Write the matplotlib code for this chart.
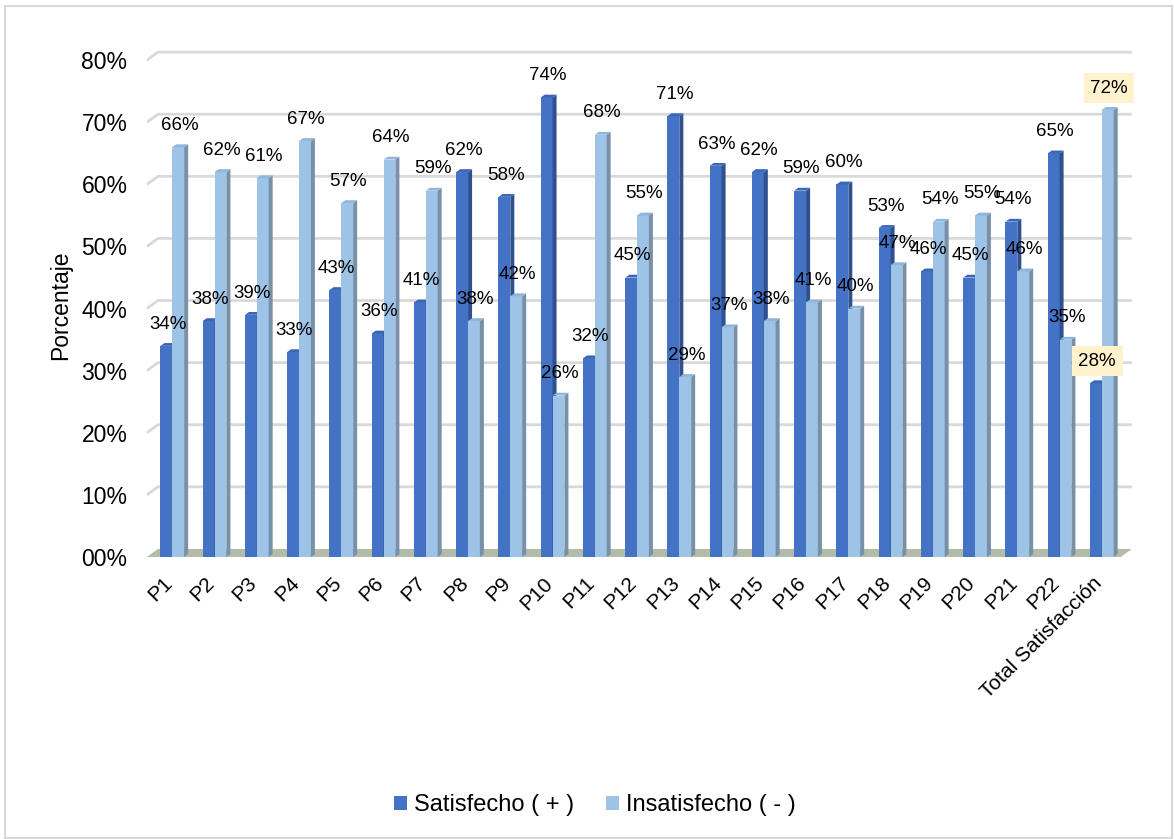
import matplotlib
matplotlib.use("Agg")
import matplotlib.pyplot as plt
import matplotlib.patches as patches
import numpy as np

plt.rcParams['font.family'] = ['Liberation Sans', 'DejaVu Sans']

# Data
categories = ["P1", "P2", "P3", "P4", "P5", "P6", "P7", "P8", "P9", "P10", "P11",
              "P12", "P13", "P14", "P15", "P16", "P17", "P18", "P19", "P20", "P21",
              "P22", "Total Satisfacción"]
satisfecho = [34, 38, 39, 33, 43, 36, 41, 62, 58, 74, 32, 45, 71, 63, 62, 59, 60,
              53, 46, 45, 54, 65, 28]
insatisfecho = [66, 62, 61, 67, 57, 64, 59, 38, 42, 26, 68, 55, 29, 37, 38, 41, 40,
                47, 54, 55, 46, 35, 72]
y_ticks = [0, 10, 20, 30, 40, 50, 60, 70, 80]
y_tick_labels = ["00%", "10%", "20%", "30%", "40%", "50%", "60%", "70%", "80%"]

# colours (Excel-like 3D bars)
SAT_FRONT, SAT_SIDE, SAT_TOP = '#4472C4', '#2F5190', '#3B66B6'
INS_FRONT, INS_SIDE, INS_TOP = '#9DC3E6', '#7890A8', '#8FB5DB'
GRID = '#D9D9D9'
FLOOR = '#B2BCA8'

BAR_W = 0.28
DEPTH_X, DEPTH_Y = 0.095, 0.45       # bar depth (data units)
WALL_X, WALL_Y = 0.26, 1.3          # back wall offset (data units)


def add_3d_faces(ax, bars, side_color, top_color, z):
    """Draw side and top faces for each front bar rectangle."""
    for b in bars:
        x0, w, h = b.get_x(), b.get_width(), b.get_height()
        x1 = x0 + w
        side = patches.Polygon([(x1, 0), (x1 + DEPTH_X, DEPTH_Y), (x1 + DEPTH_X, h + DEPTH_Y), (x1, h)],
                               closed=True, facecolor=side_color, edgecolor='none', zorder=z)
        top = patches.Polygon([(x0, h), (x1, h), (x1 + DEPTH_X, h + DEPTH_Y), (x0 + DEPTH_X, h + DEPTH_Y)],
                              closed=True, facecolor=top_color, edgecolor='none', zorder=z)
        ax.add_patch(side)
        ax.add_patch(top)


fig = plt.figure(figsize=(11.74, 8.39), dpi=100)
ax = fig.add_axes([0.11925, 0.32062, 0.8603, 0.6317])

x = np.arange(len(categories))
x_left, x_right_front = -0.60, 22.45
x_right_back = 22.71

# back wall gridlines with the little 3D diagonal on the left
for v in y_ticks[1:]:
    ax.plot([x_left, x_left + WALL_X, x_right_back], [v, v + WALL_Y, v + WALL_Y],
            color=GRID, lw=2, zorder=0, solid_capstyle='butt')

# floor
floor = patches.Polygon([(x_left, 0), (x_right_front, 0), (x_right_front + WALL_X, WALL_Y),
                         (x_left + WALL_X, WALL_Y)], closed=True, facecolor=FLOOR,
                        edgecolor='none', zorder=1)
ax.add_patch(floor)

sat_bars = ax.bar(x - BAR_W / 2, satisfecho, BAR_W, color=SAT_FRONT, zorder=2,
                  label='Satisfecho ( + )')
add_3d_faces(ax, sat_bars, SAT_SIDE, SAT_TOP, 2)
ins_bars = ax.bar(x + BAR_W / 2, insatisfecho, BAR_W, color=INS_FRONT, zorder=3,
                  label='Insatisfecho ( - )')
add_3d_faces(ax, ins_bars, INS_SIDE, INS_TOP, 3)

# data labels
last = len(categories) - 1
for i in range(len(categories)):
    for bars, vals in ((sat_bars, satisfecho), (ins_bars, insatisfecho)):
        b = bars[i]
        bbox = None
        if i == last:
            bbox = dict(boxstyle='square,pad=0.35', facecolor='#FFF2CC', edgecolor='none')
        ax.text(b.get_x() + b.get_width() / 2 + 0.03, vals[i] + 3.5, f"{vals[i]}%",
                ha='center', va='center', fontsize=13.5, color='black', zorder=5, bbox=bbox)

ax.set_xlim(-0.7645, 23.14)
ax.set_ylim(-2.093, 83.25)

ax.set_yticks(y_ticks)
ax.set_yticklabels(y_tick_labels, fontsize=16.5)
ax.set_xticks(x - 0.23)
ax.set_xticklabels(categories, rotation=45, ha='right', va='top', rotation_mode='anchor',
                   fontsize=15)
ax.tick_params(axis='y', length=0, pad=9)
ax.tick_params(axis='x', length=0, pad=2.5)
ax.set_ylabel("Porcentaje", fontsize=16.5, labelpad=7)

for s in ax.spines.values():
    s.set_visible(False)

handles = [sat_bars, ins_bars]
fig.legend(handles, [h.get_label() for h in handles], loc='center',
           bbox_to_anchor=(0.507, 0.0405), ncol=2, frameon=False, fontsize=17,
           handlelength=0.55, handleheight=0.55, handletextpad=0.3, columnspacing=1.35)

# thin grey frame around the chart area
fig.patches.append(patches.Rectangle((5 / 1174, 0.001), 1 - 7 / 1174, 1 - 7 / 839,
                                     transform=fig.transFigure, fill=False,
                                     edgecolor='#D9D9D9', lw=1.5))

fig.savefig("out.png", dpi=100)
